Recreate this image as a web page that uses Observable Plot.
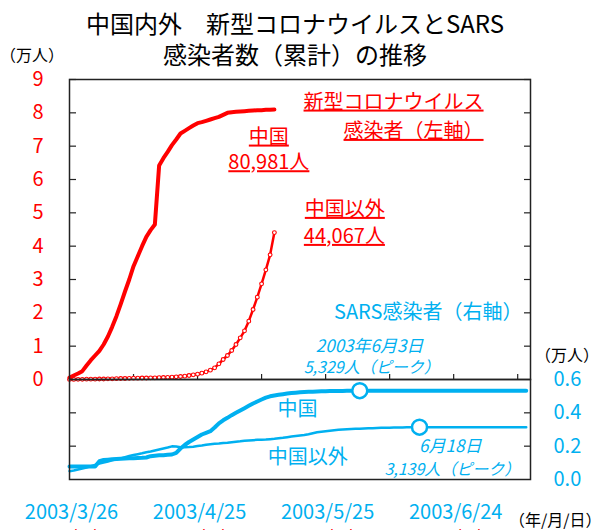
<!DOCTYPE html>
<html><head><meta charset="utf-8">
<script src="https://cdn.jsdelivr.net/npm/d3@7"></script>
<script src="https://cdn.jsdelivr.net/npm/@observablehq/plot@0.6"></script>
<style>
html,body{margin:0;padding:0;background:#fff;}
#wrap{position:relative;width:601px;height:530px;overflow:hidden;font-family:"Noto Sans CJK JP","Noto Sans",sans-serif;}
#wrap svg{position:absolute;left:0;top:0;}
.t{position:absolute;white-space:nowrap;color:#000;line-height:1;}
</style></head><body>
<div id="wrap">
  <div class="t" style="left:0;width:590px;text-align:center;top:11px;font-size:24px;">中国内外　新型コロナウイルスとSARS</div>
  <div class="t" style="left:0;width:590px;text-align:center;top:42px;font-size:24px;">感染者数（累計）の推移</div>
  <div class="t" style="left:0px;top:46px;font-size:16px;">（万人）</div>
  <div class="t" style="left:535px;top:346px;font-size:16px;">（万人）</div>
  <div class="t" style="left:509px;top:511px;font-size:16px;">（年/月/日）</div>
</div>
<script>
const RED = "#FF0000", BLUE = "#00B0F0", FONT = "'Noto Sans CJK JP','Noto Sans',sans-serif";

// 新型コロナ 累計感染者数（万人）, daily index from 2020/1/24
const covidChina = [0.06,0.12,0.18,0.25,0.42,0.58,0.72,0.86,1.05,1.29,
  1.58,1.90,2.26,2.64,3.00,3.40,3.70,4.00,4.28,4.48,
  4.65,6.42,6.64,6.83,7.03,7.20,7.38,7.46,7.54,7.62,
  7.69,7.72,7.76,7.80,7.84,7.88,7.94,8.00,8.02,8.03,
  8.04,8.05,8.06,8.07,8.08,8.08,8.09,8.09,8.0981];
const covidOutside = [0.003,0.003,0.004,0.005,0.01,0.01,0.01,0.015,0.015,0.02,
  0.02,0.025,0.03,0.03,0.035,0.04,0.04,0.045,0.045,0.05,
  0.05,0.055,0.06,0.065,0.07,0.08,0.09,0.10,0.12,0.14,
  0.16,0.19,0.23,0.28,0.35,0.47,0.60,0.72,0.87,1.05,
  1.25,1.46,1.75,2.10,2.47,2.87,3.29,3.74,4.4067];

// SARS 累計感染者数（万人）, daily index from 2003/3/26
const sarsChina = [0.078,0.078,0.078,0.078,0.078,0.078,0.078,0.110,0.117,0.119,
  0.121,0.123,0.125,0.126,0.127,0.128,0.129,0.130,0.132,0.140,
  0.143,0.145,0.146,0.148,0.150,0.160,0.186,0.207,0.225,0.240,
  0.255,0.270,0.280,0.290,0.312,0.337,0.355,0.370,0.386,0.400,
  0.414,0.428,0.442,0.456,0.468,0.480,0.491,0.499,0.504,0.508,
  0.512,0.516,0.519,0.521,0.523,0.525,0.526,0.527,0.528,0.529,
  0.5300,0.5305,0.5310,0.5313,0.5316,0.5319,0.5322,0.5326,0.5329,0.5327,
  0.5327,0.5327,0.5327,0.5327,0.5327,0.5327,0.5327,0.5327,0.5327,0.5327,
  0.5327,0.5327,0.5327,0.5327,0.5327,0.5327,0.5327,0.5327,0.5327,0.5327,
  0.5327,0.5327,0.5327,0.5327,0.5327,0.5327,0.5327,0.5327,0.5327,0.5327,
  0.5327,0.5327,0.5327,0.5327,0.5327,0.5327,0.5327,0.5327];
const sarsOutside = [0.050,0.054,0.060,0.066,0.072,0.080,0.088,0.096,0.102,0.108,
  0.115,0.121,0.127,0.134,0.141,0.147,0.152,0.157,0.163,0.168,
  0.174,0.180,0.186,0.192,0.199,0.198,0.193,0.194,0.195,0.197,
  0.201,0.204,0.208,0.211,0.214,0.216,0.219,0.221,0.224,0.227,
  0.229,0.232,0.234,0.236,0.238,0.239,0.240,0.242,0.244,0.247,
  0.250,0.254,0.258,0.261,0.264,0.267,0.272,0.278,0.283,0.287,
  0.290,0.293,0.296,0.298,0.300,0.302,0.303,0.304,0.305,0.306,
  0.307,0.308,0.309,0.310,0.3105,0.311,0.3115,0.312,0.3125,0.313,
  0.3133,0.3136,0.3139,0.3136,0.3136,0.3136,0.3136,0.3136,0.3136,0.3136,
  0.3136,0.3136,0.3136,0.3136,0.3136,0.3136,0.3136,0.3136,0.3136,0.3136,
  0.3136,0.3136,0.3136,0.3136,0.3136,0.3136,0.3136,0.3136];

const leftTicks = [0,1,2,3,4,5,6,7,8,9];
const rightTicks = [0,0.2,0.4,0.6];
const xTickIdx = [15,30,45,60,75,90,105];
const labelIdx = [0,30,60,90];
const sarsDateLabels = ["2003/3/26","2003/4/25","2003/5/25","2003/6/24"];
const covidDateLabels = ["2020/1/24","2020/2/23","2020/3/24","2020/4/23"];

const covidNotes = [
  {text:"新型コロナウイルス", i:97, v:8.32, anchor:"end"},
  {text:"感染者（左軸）", i:97, v:7.44, anchor:"end"},
  {text:"中国", i:46.7, v:7.27, anchor:"middle"},
  {text:"80,981人", i:46.7, v:6.50, anchor:"middle"},
  {text:"中国以外", i:64.5, v:5.10, anchor:"middle"},
  {text:"44,067人", i:64.4, v:4.29, anchor:"middle"}
];
const sarsNotes = [
  {text:"SARS感染者（右軸）", i:106.1, v:1.0, anchor:"end", italic:false, size:20},
  {text:"2003年6月3日", i:70.3, v:0.80, anchor:"middle", italic:true, size:17},
  {text:"5,329人（ピーク）", i:70.8, v:0.67, anchor:"middle", italic:true, size:16},
  {text:"中国", i:53.4, v:0.42, anchor:"middle", italic:false, size:20},
  {text:"中国以外", i:55.8, v:0.13, anchor:"middle", italic:false, size:20},
  {text:"6月18日", i:89.2, v:0.20, anchor:"middle", italic:true, size:17},
  {text:"3,139人（ピーク）", i:89.7, v:0.06, anchor:"middle", italic:true, size:16}
];

const cC = covidChina.map((v,i)=>({i,v}));
const cO = covidOutside.map((v,i)=>({i,v}));
const sC = sarsChina.map((v,i)=>({i,v}));
const sO = sarsOutside.map((v,i)=>({i,v}));
const peaks = [sC[d3.maxIndex(sarsChina)], sO[d3.maxIndex(sarsOutside)]];

const common = {width:601, height:530, marginLeft:69, marginRight:71,
  x:{domain:[0,108], axis:null},
  style:{background:"transparent", fontFamily:FONT, overflow:"visible"}};

const tickStyle = {fill:"none", stroke:"#222", strokeWidth:1.2, label:null};

const A = Plot.plot({...common, marginTop:79, marginBottom:151,
  y:{domain:[0,9], axis:null},
  marks:[
    Plot.axisY(leftTicks, {anchor:"left", tickSize:0, tickPadding:26, color:RED, fontSize:20, label:null}),
    Plot.axisY(leftTicks.slice(1), {anchor:"left", tickSize:-7, ...tickStyle}),
    Plot.axisY(leftTicks.slice(1), {anchor:"right", tickSize:-7, ...tickStyle}),
    Plot.axisX(xTickIdx, {anchor:"bottom", tickSize:-5, ...tickStyle}),
    Plot.line(cO, {x:"i", y:"v", stroke:RED, strokeWidth:2.5}),
    Plot.dot(cO, {x:"i", y:"v", r:1.9, stroke:RED, fill:"white", strokeWidth:1.1}),
    Plot.line(cC, {x:"i", y:"v", stroke:RED, strokeWidth:4}),
    Plot.text(covidNotes.filter(d=>d.anchor==="end"), {x:"i", y:"v", text:"text", textAnchor:"end", fill:RED, fontSize:20}),
    Plot.text(covidNotes.filter(d=>d.anchor==="middle"), {x:"i", y:"v", text:"text", textAnchor:"middle", fill:RED, fontSize:20}),
    Plot.frame({stroke:"#222", strokeWidth:1.5})
  ]});

const B = Plot.plot({...common, marginTop:379, marginBottom:51,
  y:{domain:[0,0.6], axis:null},
  marks:[
    Plot.axisY(rightTicks, {anchor:"right", tickSize:0, tickPadding:23, color:BLUE, fontSize:20, tickFormat:d=>d.toFixed(1), label:null}),
    Plot.axisY([0.2,0.4], {anchor:"right", tickSize:-7, ...tickStyle}),
    Plot.axisY([0.2,0.4], {anchor:"left", tickSize:-7, ...tickStyle}),
    Plot.axisX(labelIdx, {anchor:"bottom", tickSize:0, tickPadding:25, color:BLUE, fontSize:20, tickFormat:d=>sarsDateLabels[labelIdx.indexOf(d)], dx:2, label:null}),
    Plot.axisX(labelIdx, {anchor:"bottom", tickSize:0, tickPadding:51, color:RED, fontSize:20, tickFormat:d=>covidDateLabels[labelIdx.indexOf(d)], dx:2, label:null}),
    Plot.line(sO, {x:"i", y:"v", stroke:BLUE, strokeWidth:2.5}),
    Plot.line(sC, {x:"i", y:"v", stroke:BLUE, strokeWidth:4}),
    Plot.dot(peaks, {x:"i", y:"v", r:7.5, stroke:BLUE, fill:"white", strokeWidth:2.5}),
    Plot.text(sarsNotes.filter(d=>d.anchor==="end"), {x:"i", y:"v", text:"text", textAnchor:"end", fill:BLUE, fontSize:20}),
    Plot.text(sarsNotes.filter(d=>d.anchor==="middle" && !d.italic), {x:"i", y:"v", text:"text", textAnchor:"middle", fill:BLUE, fontSize:20}),
    Plot.text(sarsNotes.filter(d=>d.italic), {x:"i", y:"v", text:"text", textAnchor:"middle", fill:BLUE, fontSize:d=>d.size, fontStyle:"italic"}),
    Plot.frame({stroke:"#222", strokeWidth:1.5})
  ]});

const wrap = document.getElementById("wrap");
wrap.appendChild(A);
wrap.appendChild(B);
const ul = new Set(covidNotes.map(d=>d.text));
d3.select(A).selectAll("text").each(function(){
  if (ul.has(this.textContent)) { this.setAttribute("text-decoration","underline"); this.style.textDecoration="underline"; }
});
</script>
</body></html>
